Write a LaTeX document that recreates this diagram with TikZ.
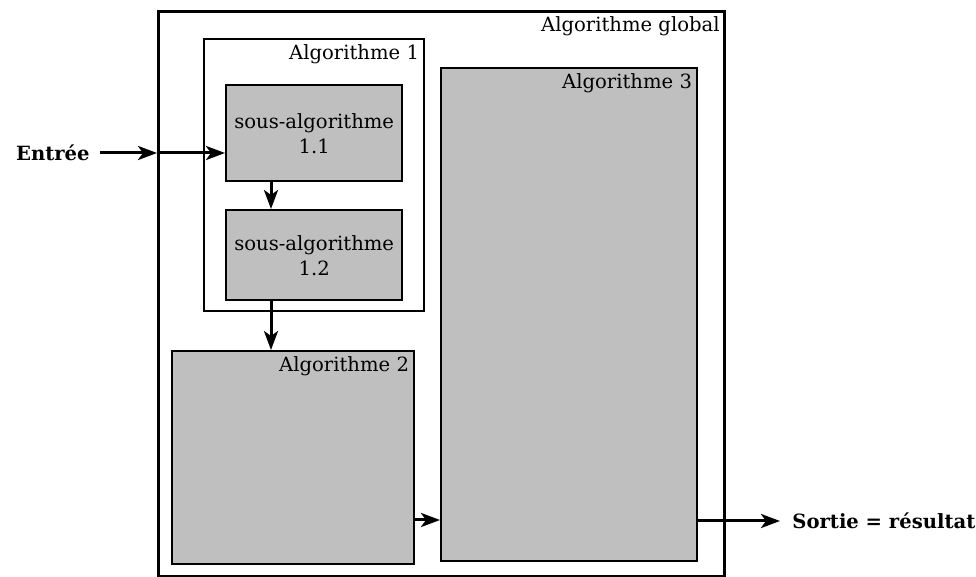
\documentclass[tikz,border=0pt]{standalone}
\usepackage{fontspec}
\setmainfont{DejaVu Serif}
\usetikzlibrary{arrows.meta,calc}
\begin{document}
\begin{tikzpicture}[x=0.5pt,y=-0.5pt,
  font=\fontsize{9.8}{12.5}\selectfont,
  outerbox/.style={draw,line width=1.5pt,anchor=north west,inner sep=0pt},
  framebox/.style={draw,line width=1.2pt,anchor=north west,inner sep=0pt},
  graybox/.style={draw,fill=lightgray,line width=1.2pt,anchor=north west,inner sep=0pt},
  subbox/.style={draw,fill=lightgray,line width=1.2pt,anchor=north west,inner sep=0pt,align=center},
  boxlabel/.style={anchor=north east,inner sep=3pt},
  arr/.style={line width=1.5pt,-{Stealth[length=9.5pt,width=7pt,inset=2.5pt]}}]
\useasboundingbox (0,0) rectangle (976,577);
% boxes
\node[outerbox,minimum width=283pt,minimum height=282.5pt] (global) at (157,10) {};
\node[boxlabel] (globallbl) at (global.north east) {Algorithme global};
\node[framebox,minimum width=110pt,minimum height=136pt] (alg1) at (203,38) {};
\node[boxlabel] (alg1lbl) at (alg1.north east) {Algorithme 1};
\node[subbox,minimum width=88pt,minimum height=48pt] (s11) at (225,84) {sous-algorithme\\1.1};
\node[subbox,minimum width=88pt,minimum height=45pt] (s12) at (225,209) {sous-algorithme\\1.2};
\node[graybox,minimum width=121pt,minimum height=106.5pt] (alg2) at (171,350) {};
\node[boxlabel] (alg2lbl) at (alg2.north east) {Algorithme 2};
\node[graybox,minimum width=128pt,minimum height=246.5pt] (alg3) at (440,67) {};
\node[boxlabel] (alg3lbl) at (alg3.north east) {Algorithme 3};
% outer labels
\node[anchor=east,inner sep=3pt] (entree) at (96,153) {\textbf{Entrée}};
\node[anchor=west,inner sep=3pt] (sortie) at (786,521) {\textbf{Sortie = résultat}};
% helper coordinates
\coordinate (vx) at (271,0);
\coordinate (hy) at (0,520);
\coordinate (oy) at (0,521);
% connectors
\draw[arr] ([xshift=2pt]entree.east) -- (entree -| global.west);
\draw[arr] (entree -| global.west) -- (entree -| s11.west);
\draw[arr] (vx |- s11.south) -- (vx |- s12.north);
\draw[arr] (vx |- s12.south) -- (vx |- alg2.north);
\draw[arr] (hy -| alg2.east) -- (hy -| alg3.west);
\draw[arr] (oy -| alg3.east) -- ([xshift=-3pt]sortie.west);
\end{tikzpicture}
\end{document}
